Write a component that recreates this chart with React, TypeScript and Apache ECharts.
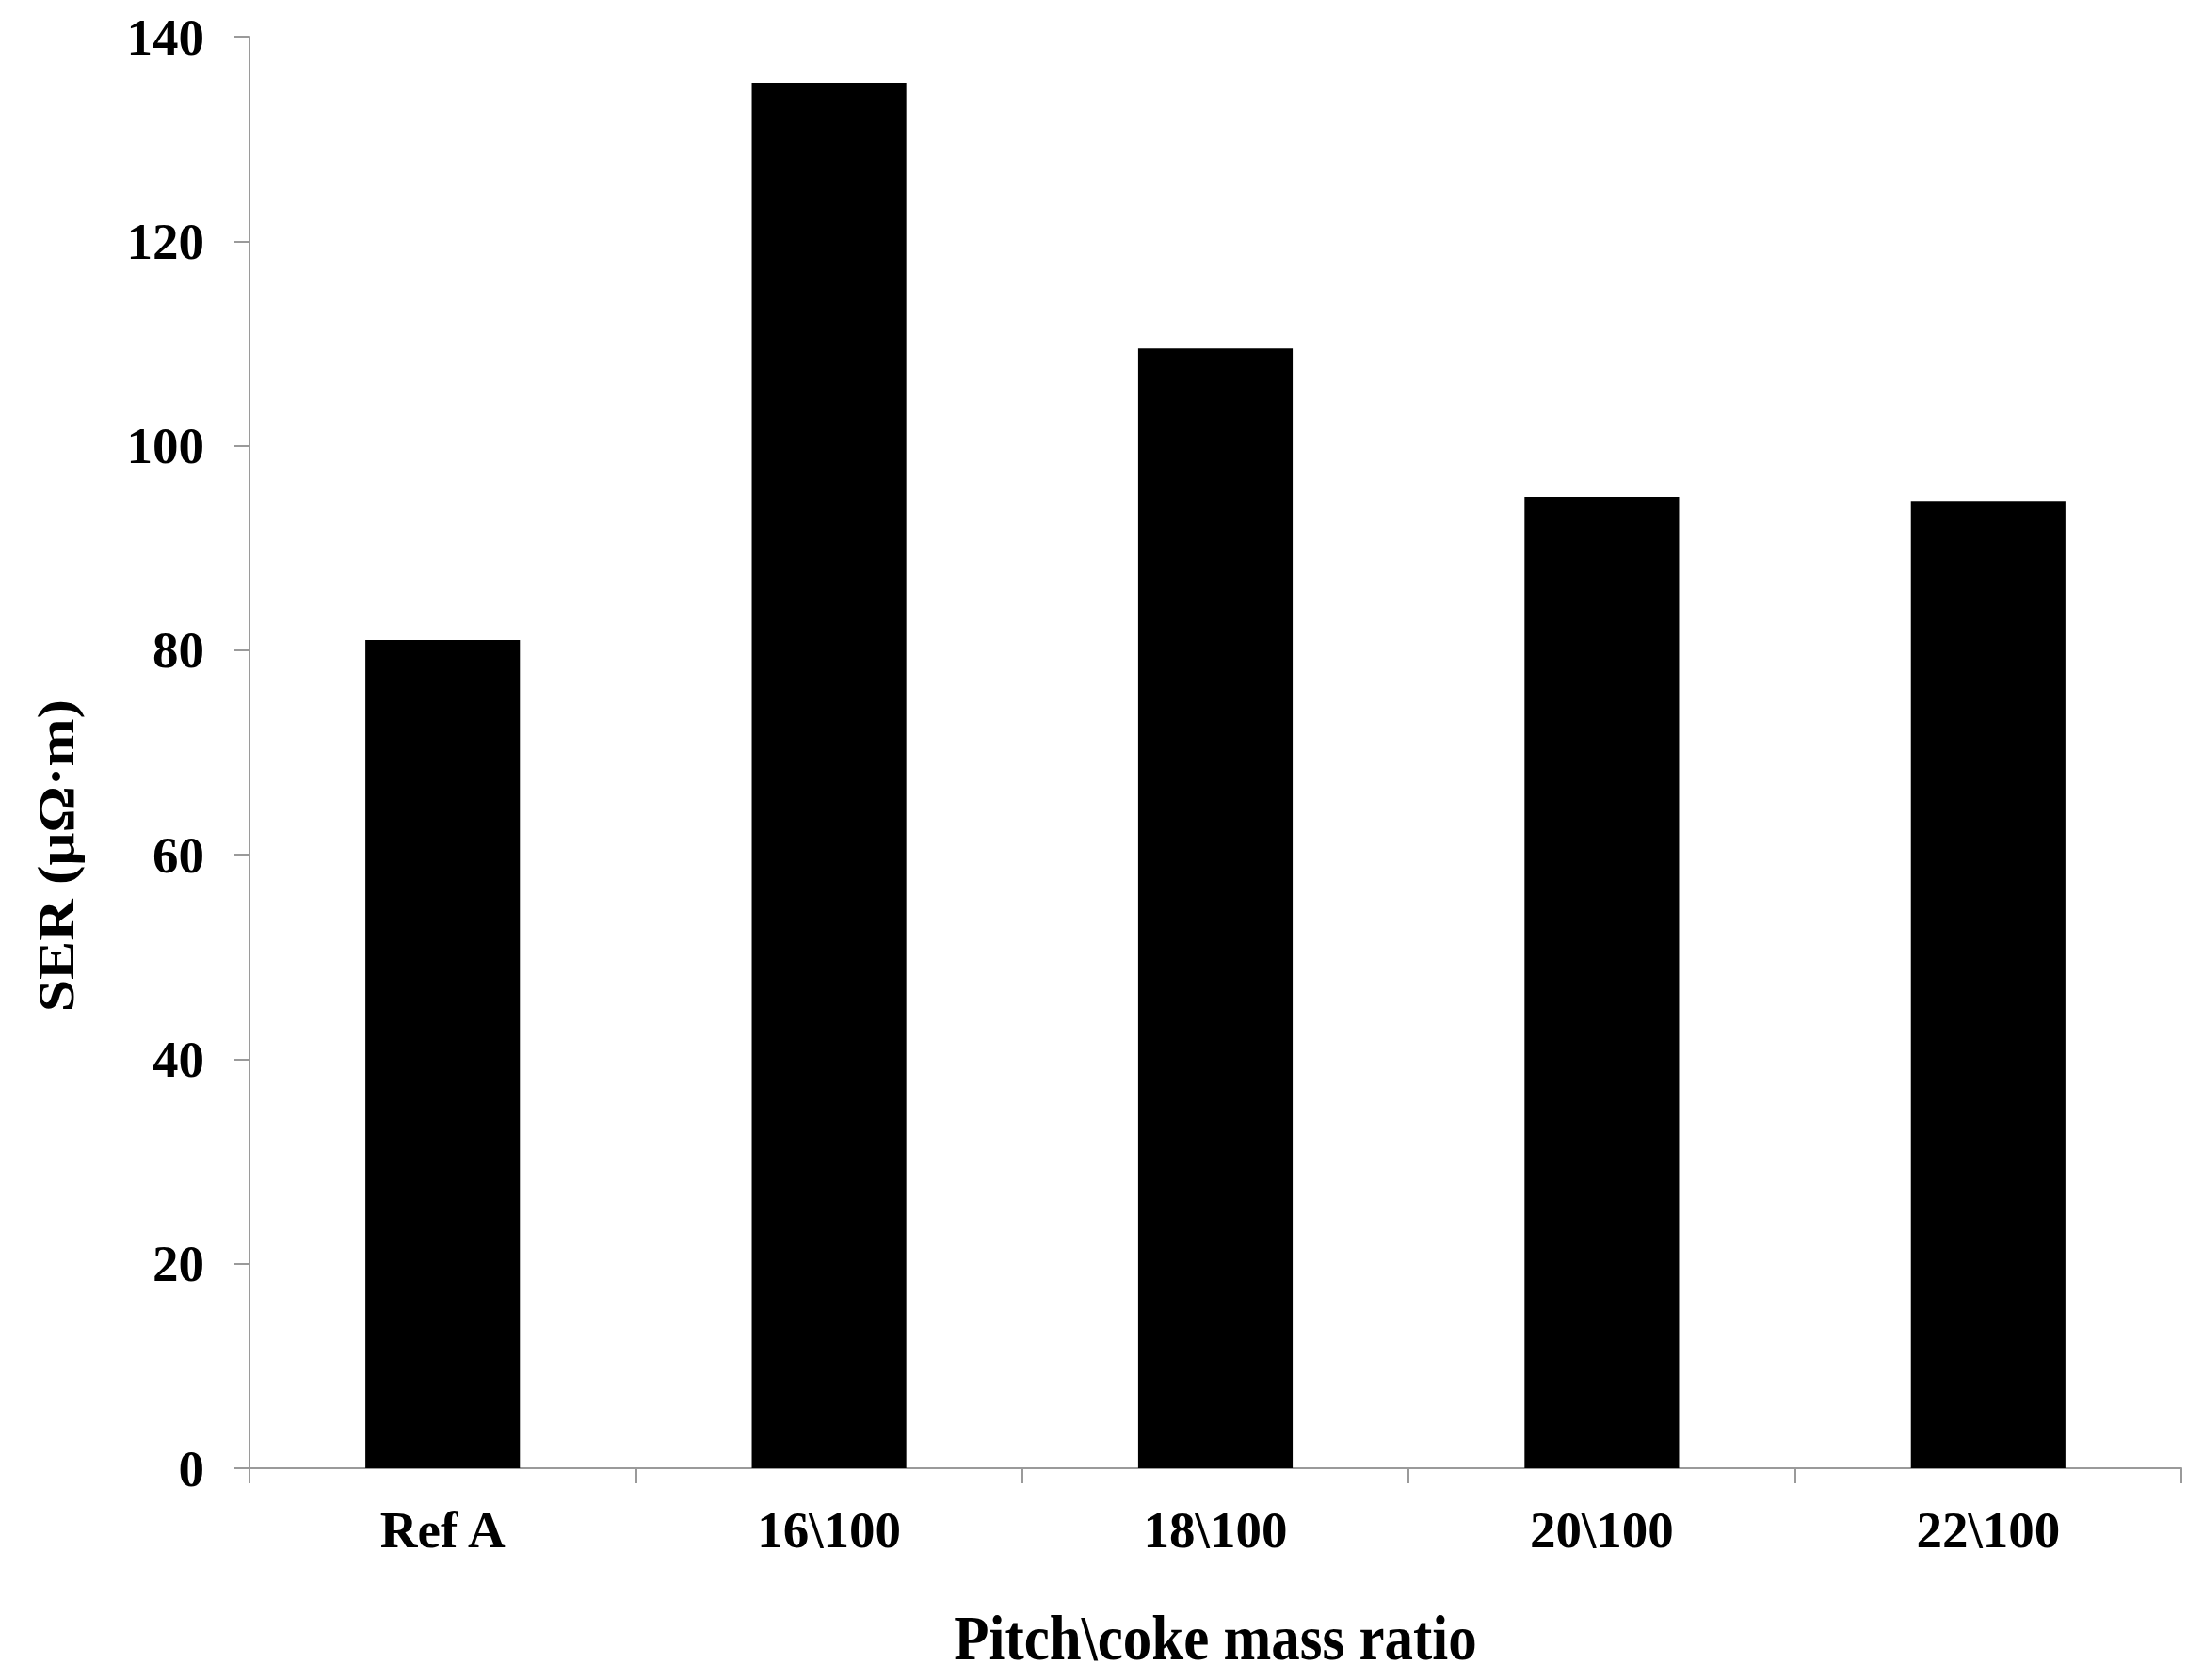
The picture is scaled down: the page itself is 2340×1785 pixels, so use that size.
import React, { useEffect, useRef } from "react";
import * as echarts from "echarts";

const categories = ["Ref A", "16\\100", "18\\100", "20\\100", "22\\100"];
const serValues = [81, 135.5, 109.5, 95, 94.6];
const yTicks = { min: 0, max: 140, interval: 20 };
const xTitle = "Pitch\\coke mass ratio";
const yTitle = "SER (μΩ·m)";

const FONT = "'Liberation Serif', 'Times New Roman', serif";
const AXIS_COLOR = "#9a9a9a";

export default function App() {
  const ref = useRef<HTMLDivElement>(null);
  useEffect(() => {
    if (!ref.current) return;
    const chart = echarts.init(ref.current, null, { renderer: "svg" });
    chart.setOption({
      animation: false,
      backgroundColor: "#ffffff",
      grid: {
        left: 265,
        right: 23,
        top: 39,
        bottom: 225,
        containLabel: false,
        outerBoundsMode: "none",
      },
      xAxis: {
        type: "category",
        data: categories,
        axisLine: { show: true, lineStyle: { color: AXIS_COLOR, width: 2 } },
        axisTick: { show: true, length: 16, lineStyle: { color: AXIS_COLOR, width: 2 } },
        axisLabel: {
          margin: 38,
          color: "#000",
          fontFamily: FONT,
          fontWeight: "bold",
          fontSize: 55,
        },
      },
      yAxis: {
        type: "value",
        min: yTicks.min,
        max: yTicks.max,
        interval: yTicks.interval,
        splitLine: { show: false },
        axisLine: { show: true, lineStyle: { color: AXIS_COLOR, width: 2 } },
        axisTick: { show: true, length: 16, lineStyle: { color: AXIS_COLOR, width: 2 } },
        axisLabel: {
          margin: 48,
          color: "#000",
          fontFamily: FONT,
          fontWeight: "bold",
          fontSize: 55,
        },
      },
      graphic: [
        {
          type: "text",
          x: 60,
          y: 909,
          rotation: Math.PI / 2,
          scaleX: 1.12,
          style: {
            text: yTitle,
            fill: "#000",
            font: `bold 55px ${FONT}`,
            textAlign: "center",
            textVerticalAlign: "middle",
          },
        },
        {
          type: "text",
          x: 1291,
          y: 1740,
          scaleY: 1.12,
          style: {
            text: xTitle,
            fill: "#000",
            font: `bold 61px ${FONT}`,
            textAlign: "center",
            textVerticalAlign: "middle",
          },
        },
      ],
      series: [
        {
          type: "bar",
          data: serValues,
          barWidth: "40%",
          itemStyle: { color: "#000000" },
        },
      ],
    });
    return () => chart.dispose();
  }, []);
  return (
    <div
      ref={ref}
      style={{ position: "absolute", left: 0, top: 0, width: 2340, height: 1785 }}
    />
  );
}
